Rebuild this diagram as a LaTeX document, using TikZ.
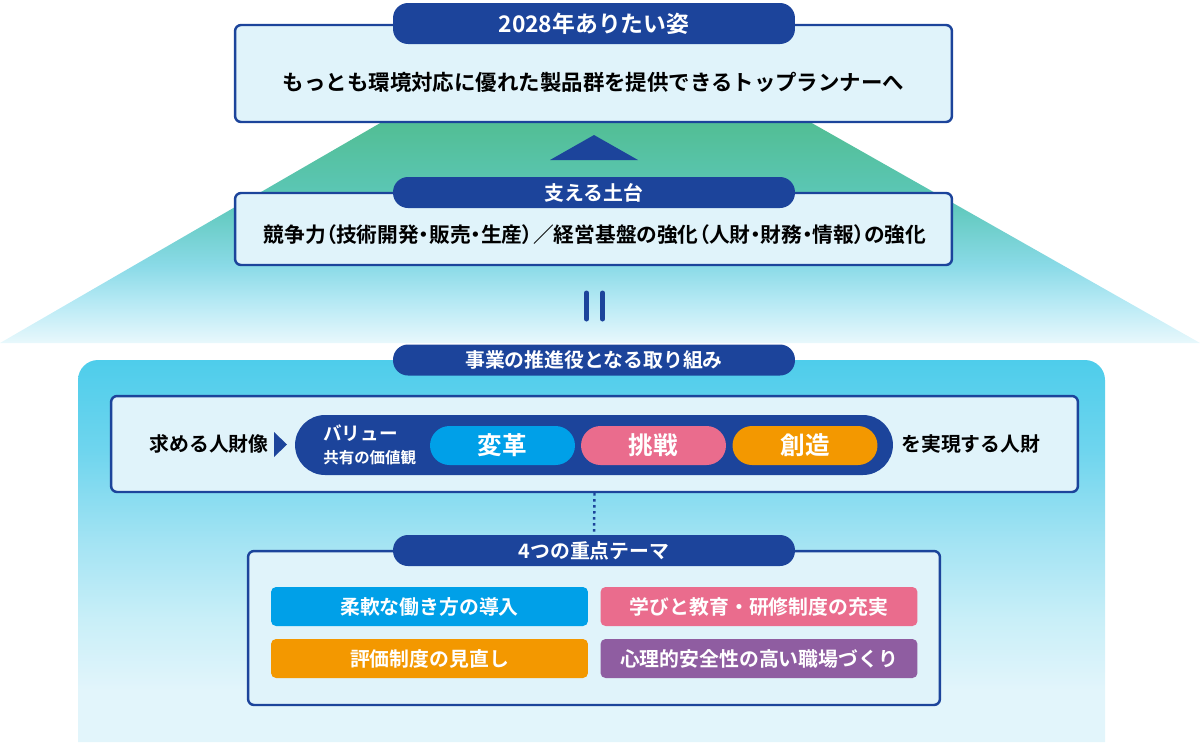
\documentclass[tikz,border=0pt]{standalone}
\usepackage{fontspec}
\setmainfont{Noto Sans CJK JP}[BoldFont={* Bold}]
\newfontfamily\jpprop{Noto Sans CJK JP}[BoldFont={* Bold},RawFeature=+palt]
\usepackage{tikz}

\definecolor{navy}{HTML}{1C449B}
\definecolor{boxfill}{HTML}{E0F3FA}
\definecolor{chipblue}{HTML}{00A0E8}
\definecolor{chippink}{HTML}{EA6C8D}
\definecolor{chiporange}{HTML}{F39800}
\definecolor{chippurple}{HTML}{8F5DA1}
\definecolor{pyrA}{HTML}{52BE94}
\definecolor{pyrB}{HTML}{5CC7B8}
\definecolor{pyrC}{HTML}{8ADAE7}
\definecolor{pyrD}{HTML}{B5E9F4}
\definecolor{pyrE}{HTML}{E8F8FC}
\definecolor{panA}{HTML}{4ECDEB}
\definecolor{panB}{HTML}{6FD5EE}
\definecolor{panC}{HTML}{A2E3F3}
\definecolor{panD}{HTML}{C9EFF8}
\definecolor{panE}{HTML}{E2F5FB}

\pgfdeclareverticalshading{pyramid}{100bp}{color(0bp)=(pyrE); color(25bp)=(pyrE);
  color(34.5bp)=(pyrD); color(42.5bp)=(pyrC); color(57.5bp)=(pyrB); color(75bp)=(pyrA); color(100bp)=(pyrA)}
\pgfdeclareverticalshading{panel}{100bp}{color(0bp)=(panE); color(25bp)=(panE);
  color(31.8bp)=(panE); color(41bp)=(panD); color(51.5bp)=(panC); color(63bp)=(panB); color(75bp)=(panA); color(100bp)=(panA)}

\begin{document}
\begin{tikzpicture}
[%%%%%%%%%%%%%%%%%%%%%%%%%%%%%%
x=0.02cm,y=-0.02cm,
box/.style={rectangle,draw=navy,line width=1.4pt,fill=boxfill,rounded corners=0.12cm,inner sep=0pt},
tag/.style={rectangle,fill=navy,rounded corners=0.3cm,text=white,minimum width=8.04cm,minimum height=0.62cm,
  inner sep=0pt,font=\bfseries\fontsize{11.3}{13}\selectfont},
txt/.style={inner sep=0pt,font=\bfseries\fontsize{11.3}{13}\selectfont},
chip/.style={rectangle,rounded corners=0.39cm,minimum width=2.9cm,minimum height=0.78cm,inner sep=0pt,
  text=white,font=\bfseries\fontsize{14}{16}\selectfont},
theme/.style={rectangle,rounded corners=0.1cm,minimum width=6.34cm,minimum height=0.78cm,inner sep=0pt,
  text=white,font=\bfseries\fontsize{11.3}{13}\selectfont},
]%%%%%%%%%%%%%%%%%%%%%%%%%%%%%%
\useasboundingbox (0,0) rectangle (1200,745);

% background shapes
\shade[shading=pyramid] (382,122) -- (810,122) -- (1200,343) -- (0,343) -- cycle;
\shade[shading=panel] (78,742) [rounded corners=0.4cm] -- (78,360) -- (1105,360) [sharp corners] -- (1105,742) -- cycle;

% goal
\node[box,minimum width=14.34cm,minimum height=1.94cm] (goal) at (593.5,73.5){};
\node[txt,font=\bfseries\fontsize{12.2}{14}\selectfont] (goaltext) at (593.5,82){もっとも環境対応に優れた製品群を提供できるトップランナーへ};
\node[tag,minimum height=0.82cm,font=\bfseries\fontsize{13}{15}\selectfont] (goaltag) at (594,23.5){2028年ありたい姿};

\fill[navy] (594,135) -- (638,160) -- (550,160) -- cycle;

% base
\node[box,minimum width=14.34cm,minimum height=1.44cm] (base) at (593.5,229){};
\node[txt,font=\jpprop\bfseries\fontsize{11.8}{13}\selectfont] (basetext) at (595,235){競争力（技術開発・販売・生産）／経営基盤の強化（人財・財務・情報）の強化};
\node[tag] (basetag) at (594,192.5){支える土台};

\draw[navy,line width=0.1cm,line cap=round] (586.5,293) -- (586.5,319);
\draw[navy,line width=0.1cm,line cap=round] (602.5,293) -- (602.5,319);

% values
\node[tag] (worktag) at (594,360){事業の推進役となる取り組み};
\node[box,minimum width=19.34cm,minimum height=1.92cm] (values) at (594.5,444){};
\node[txt,anchor=east] (wanted) at (269,444){求める人財像};
\fill[navy] (274,432) -- (287,444.5) -- (274,457) -- cycle;
\node[rectangle,fill=navy,rounded corners=0.6cm,minimum width=11.96cm,minimum height=1.2cm] (valuebar) at (594,445){};
\node[txt,anchor=west,text=white,font=\bfseries\fontsize{10.6}{12}\selectfont] (valuename) at (323,433){バリュー};
\node[txt,anchor=west,text=white,font=\bfseries\fontsize{8.8}{10}\selectfont] (valuesub) at (323,458){共有の価値観};
\node[chip,fill=chipblue] (change) at (502.5,445.5){変革};
\node[chip,fill=chippink] (challenge) at (653.5,445.5){挑戦};
\node[chip,fill=chiporange] (create) at (805,445.5){創造};
\node[txt,anchor=west] (realize) at (901,444){を実現する人財};

% themes
\node[box,minimum width=13.84cm,minimum height=3.08cm] (themes) at (594,628){};
\node[tag] (themetag) at (594,550.5){4つの重点テーマ};
\draw[navy,line width=1.4pt,dotted] (values.south) -- (themetag.north);
\node[theme,fill=chipblue] (flex) at (429.5,606.5){柔軟な働き方の導入};
\node[theme,fill=chippink] (learn) at (759,606.5){学びと教育・研修制度の充実};
\node[theme,fill=chiporange] (review) at (429.5,658.5){評価制度の見直し};
\node[theme,fill=chippurple] (safe) at (759,658.5){心理的安全性の高い職場づくり};
\end{tikzpicture}
\end{document}
